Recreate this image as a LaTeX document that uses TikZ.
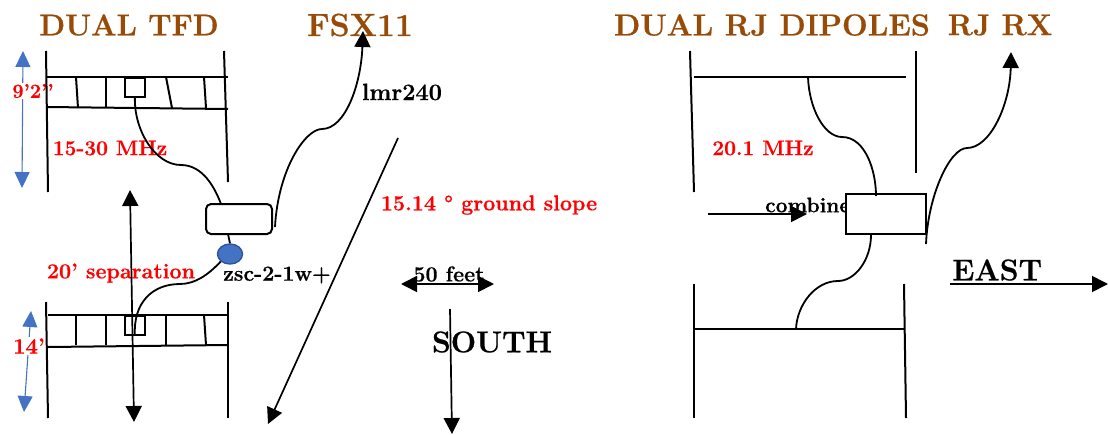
\documentclass[tikz,border=0pt]{standalone}
\usepackage{fontspec}
\setmainfont{Latin Modern Roman}[BoldFeatures={FakeBold=0.6}]
\usetikzlibrary{arrows.meta,shapes.geometric}
\definecolor{titlebrown}{HTML}{974B07}
\definecolor{bluefill}{HTML}{4472C4}
\definecolor{blueedge}{HTML}{2F5597}
\tikzset{
  x=1pt,y=-1pt,
  wire/.style={draw=black,line width=2pt},
  thin wire/.style={draw=black,line width=1.8pt},
  arrowline/.style={draw=black,line width=1.7pt},
  head/.style={-{Triangle[length=16pt,width=16pt]}},
  dhead/.style={{Triangle[length=16pt,width=16pt]}-{Triangle[length=16pt,width=16pt]}},
  bluehead/.style={{Triangle[length=16pt,width=15pt]}-{Triangle[length=16pt,width=15pt]},draw=bluefill,line width=1.1pt},
  txt/.style={inner sep=0pt,font=\bfseries\fontsize{#1}{#1}\selectfont},
  title/.style={txt=#1,text=titlebrown},
  redt/.style={txt=#1,text=red},
  blk/.style={txt=#1,text=black},
  feed/.style={draw=black,line width=1.8pt,minimum width=20pt,minimum height=19pt,inner sep=0pt},
}
\begin{document}
\begin{tikzpicture}
\useasboundingbox (0,0) rectangle (1108,434);
% titles
\node[title=30] (t1) at (129,25) {DUAL TFD};
\node[title=32] (t2) at (360,25) {FSX11};
\node[title=30.5] (t3) at (772,25) {DUAL RJ DIPOLES};
\node[title=30] (t4) at (1000,25) {RJ RX};
% labels under lines
\node[redt=21] (mhz) at (110,148) {15-30 MHz};
\node[redt=21.5] (sep) at (121,273) {20’ separation};
\node[redt=21] (rjmhz) at (763,148) {20.1 MHz};
\node[redt=21.5] (slope) at (489,205) {15.14 ° ground slope};
\node[blk=23.5] (lmr) at (402,92) {lmr240};
\node[blk=21.5] (zsc) at (277,275) {zsc-2-1w+};
\node[blk=21.5] (fifty) at (449,274) {50 feet};
\node[blk=30] (south) at (492,342) {SOUTH};
\node[blk=30,anchor=west] (east) at (952,270) {EAST};
\node[blk=21,anchor=west] (comb) at (765,205) {combine};
% blue dimension arrows
\coordinate (b1a) at (23,51); \coordinate (b1b) at (22,188);
\coordinate (b2a) at (31,311); \coordinate (b2b) at (24,412);
\draw[bluehead] (b1a) -- (b1b);
\draw[bluehead] (b2a) -- (b2b);
\node[redt=20,fill=white,inner sep=1pt] (h1) at (33,91) {9’2’’};
\node[redt=22,fill=white,inner sep=1pt] (h2) at (29,346) {14’};
% top TFD
\coordinate (a1) at (46,51); \coordinate (a2) at (48,192);
\coordinate (a3) at (224,51); \coordinate (a4) at (228,182);
\coordinate (a5) at (46,77); \coordinate (a6) at (228,77);
\coordinate (a7) at (46,107); \coordinate (a8) at (228,109);
\draw[wire] (a1) -- (a2);
\draw[wire] (a3) -- (a4);
\draw[wire] (a5) -- (a6);
\draw[wire] (a7) -- (a8);
\foreach \i/\xa/\xb in {1/76/78,2/106/106,3/166/172,4/204/206}{
  \coordinate (ru\i) at (\xa,77); \coordinate (rl\i) at (\xb,108);
  \draw[wire] (ru\i) -- (rl\i);
}
\node[feed,anchor=north west] (sb1) at (124,77) {};
% bottom TFD
\coordinate (c1) at (46,302); \coordinate (c2) at (48,418);
\coordinate (c3) at (228,302); \coordinate (c4) at (228,418);
\coordinate (c5) at (48,315); \coordinate (c6) at (228,315);
\coordinate (c7) at (48,347); \coordinate (c8) at (228,345);
\draw[wire] (c1) -- (c2);
\draw[wire] (c3) -- (c4);
\draw[wire] (c5) -- (c6);
\draw[wire] (c7) -- (c8);
\foreach \i/\xa/\xb in {1/76/76,2/106/106,3/166/166,4/204/206}{
  \coordinate (su\i) at (\xa,315); \coordinate (sl\i) at (\xb,345);
  \draw[wire] (su\i) -- (sl\i);
}
\node[feed,anchor=north west] (sb2) at (124,315) {};
% combiner + balun
\node[draw=black,line width=2pt,rounded corners=5pt,minimum width=66pt,minimum height=30pt,inner sep=0pt] (box1) at (239,219) {};
\node[ellipse,draw=blueedge,fill=bluefill,line width=1.4pt,minimum width=25pt,minimum height=20pt,inner sep=0pt] (bal) at (230,254) {};
\coordinate (bx) at (228,234);
\draw[thin wire] (bx) -- (bal.north);
\draw[thin wire] (sb1.south) .. controls (134,130) and (155,165) .. (181,165) .. controls (203,165) and (215,188) .. (221,204);
\draw[thin wire] (bal.south west) .. controls (208,275) and (195,284) .. (180,284) .. controls (152,284) and (133,303) .. (sb2.south);
% separation arrow
\coordinate (s1) at (130,190); \coordinate (s2) at (134,422);
\draw[arrowline,dhead] (s1) -- (s2);
% FSX11 feed
\coordinate (f1) at (275,227); \coordinate (f2) at (363,31);
\draw[thin wire,head] (f1) .. controls (278,170) and (305,129) .. (322,129) .. controls (345,129) and (361,85) .. (f2);
% slope
\coordinate (g1) at (398,138); \coordinate (g2) at (268,424);
\draw[arrowline,head] (g1) -- (g2);
% 50 feet
\coordinate (w1) at (401,284); \coordinate (w2) at (494,284);
\draw[arrowline,dhead] (w1) -- (w2);
% south
\coordinate (so1) at (450,309); \coordinate (so2) at (452,434);
\draw[arrowline,head] (so1) -- (so2);
% dipole top
\coordinate (d1) at (690,51); \coordinate (d2) at (694,192);
\coordinate (d3) at (916,51); \coordinate (d4) at (916,173);
\coordinate (d5) at (694,77); \coordinate (d6) at (906,77);
\coordinate (d7) at (808,77);
\draw[wire] (d1) -- (d2);
\draw[wire] (d3) -- (d4);
\draw[wire] (d5) -- (d6);
% dipole bottom
\coordinate (e1) at (694,284); \coordinate (e2) at (694,418);
\coordinate (e3) at (904,284); \coordinate (e4) at (906,418);
\coordinate (e5) at (694,329); \coordinate (e6) at (905,329);
\coordinate (e7) at (796,329);
\draw[wire] (e1) -- (e2);
\draw[wire] (e3) -- (e4);
\draw[wire] (e5) -- (e6);
% left arrow
\coordinate (l1) at (708,214); \coordinate (l2) at (807,214);
\draw[arrowline,head] (l1) -- (l2);
% combiner box
\node[draw=black,fill=white,line width=2pt,minimum width=80pt,minimum height=40pt,inner sep=0pt] (box2) at (886,214) {};
\coordinate (k1) at (876,196);
\coordinate (k2) at (871,235);
\draw[thin wire] (d7) .. controls (809,108) and (824,137) .. (842,137) .. controls (865,137) and (876,170) .. (k1);
\draw[thin wire] (k2) .. controls (871,260) and (855,281) .. (838,281) .. controls (815,281) and (797,305) .. (e7);
\coordinate (r1) at (926,244); \coordinate (r2) at (1011,52);
\draw[thin wire,head] (r1) .. controls (928,195) and (950,148) .. (967,148) .. controls (990,148) and (1010,105) .. (r2);
% east
\coordinate (ea1) at (950,284); \coordinate (ea2) at (1108,284);
\draw[arrowline,head] (ea1) -- (ea2);
\end{tikzpicture}
\end{document}
